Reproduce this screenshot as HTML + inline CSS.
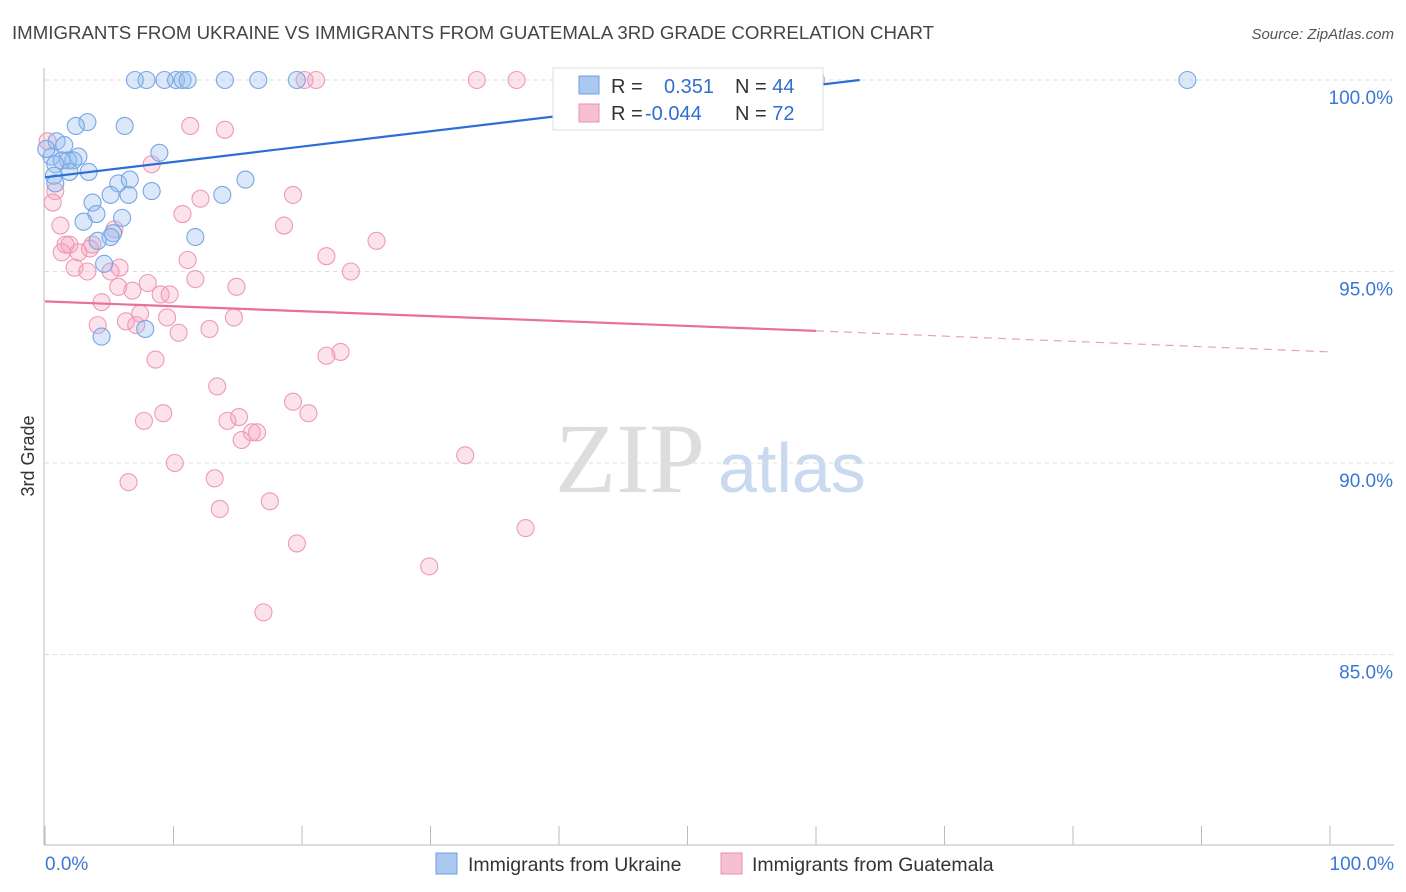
<!DOCTYPE html>
<html><head><meta charset="utf-8"><style>
body{margin:0;background:#fff;font-family:"Liberation Sans",sans-serif;}
svg{display:block}
</style></head><body>
<svg width="1406" height="892" id="chart">
<text x="12" y="39" font-size="18" fill="#444" textLength="922" lengthAdjust="spacingAndGlyphs">IMMIGRANTS FROM UKRAINE VS IMMIGRANTS FROM GUATEMALA 3RD GRADE CORRELATION CHART</text>
<text x="1394" y="39" font-size="15" fill="#555" font-style="italic" text-anchor="end">Source: ZipAtlas.com</text>
<text x="34" y="456" font-size="18" fill="#333" transform="rotate(-90 34 456)" text-anchor="middle">3rd Grade</text>
<text x="555" y="492" font-size="100" fill="#ddd" font-family="Liberation Serif">ZIP</text>
<text x="718" y="492" font-size="70" fill="#c9daf0">atlas</text>
<g id="grid"></g><g id="axes"></g><g id="pts"></g><g id="lines"></g>
<g>
<rect x="553" y="68" width="270" height="62" fill="#fff" stroke="#ddd"/>
<rect x="579" y="76" width="20" height="18" fill="#aac8f0" stroke="#6f9fe0"/>
<rect x="579" y="104" width="20" height="18" fill="#f7c0d2" stroke="#ec8fb0"/>
<text x="611" y="93" font-size="20" fill="#333">R = <tspan fill="#2f6fd0" x="664">0.351</tspan><tspan fill="#333" x="735">N = </tspan><tspan fill="#2f6fd0">44</tspan></text>
<text x="611" y="120" font-size="20" fill="#333">R = <tspan fill="#2f6fd0" x="645">-0.044</tspan><tspan fill="#333" x="735">N = </tspan><tspan fill="#2f6fd0">72</tspan></text>
</g>
<g>
<rect x="436" y="853" width="21" height="21" fill="#aac8f0" stroke="#6f9fe0"/>
<text x="468" y="871" font-size="19.5" fill="#333">Immigrants from Ukraine</text>
<rect x="721" y="853" width="21" height="21" fill="#f7c0d2" stroke="#ec8fb0"/>
<text x="752" y="871" font-size="19.5" fill="#333">Immigrants from Guatemala</text>
</g>
</svg>
<script>
const yTicks=[100,95,90,85];
const yTickLabels=["100.0%","95.0%","90.0%","85.0%"];
const xTickLabels=["0.0%","100.0%"];
const blueX=[7.0,7.9,9.3,10.2,10.7,11.1,14.0,16.6,19.6,88.9,3.3,2.4,6.2,0.9,1.5,8.9,0.5,2.6,1.8,2.2,1.3,3.4,0.8,1.9,0.7,0.8,15.6,5.7,6.6,8.3,5.1,6.5,13.8,3.7,4.0,6.0,3.0,5.3,5.1,11.7,4.1,4.6,7.8,4.4,0.1];
const blueY=[100,100,100,100,100,100,100,100,100,100,98.9,98.8,98.8,98.4,98.3,98.1,98.0,98.0,97.9,97.9,97.9,97.6,97.8,97.6,97.5,97.3,97.4,97.3,97.4,97.1,97.0,97.0,97.0,96.8,96.5,96.4,96.3,96.0,95.9,95.9,95.8,95.2,93.5,93.3,98.2];
const pinkX=[0.2,20.2,21.1,33.6,36.7,60.0,11.3,14.0,8.3,0.8,0.6,19.3,12.1,10.7,1.2,18.6,5.4,25.8,1.6,1.9,3.7,1.3,2.6,3.5,11.1,21.9,2.3,5.8,5.1,3.3,23.8,8.0,11.7,5.7,6.8,14.9,9.0,9.7,4.4,6.3,9.5,14.7,7.4,7.1,4.1,10.4,12.8,23.0,21.9,8.6,13.4,19.3,9.2,20.5,7.7,14.2,15.1,16.5,16.1,15.3,32.7,10.1,13.2,6.5,17.5,13.6,37.4,19.6,29.9,17.0];
const pinkY=[98.4,100,100,100,100,100,98.8,98.7,97.8,97.1,96.8,97.0,96.9,96.5,96.2,96.2,96.1,95.8,95.7,95.7,95.7,95.5,95.5,95.6,95.3,95.4,95.1,95.1,95.0,95.0,95.0,94.7,94.8,94.6,94.5,94.6,94.4,94.4,94.2,93.7,93.8,93.8,93.9,93.6,93.6,93.4,93.5,92.9,92.8,92.7,92.0,91.6,91.3,91.3,91.1,91.1,91.2,90.8,90.8,90.6,90.2,90.0,89.6,89.5,89.0,88.8,88.3,87.9,87.3,86.1];
const blueLine=[[0,97.46],[63.4,100]];
const pinkLine=[[0,94.22],[60,93.45]];
const pinkDash=[[60,93.45],[100,92.9]];
const NS="http://www.w3.org/2000/svg";
const sx=v=>45+v*12.85;
const sy=v=>80+(100-v)*38.3;
function mk(t,a,p){const e=document.createElementNS(NS,t);for(const k in a)e.setAttribute(k,a[k]);document.getElementById(p).appendChild(e);return e;}
yTicks.forEach((t,i)=>{
 const l=mk('line',{x1:45,x2:1394,y1:sy(t),y2:sy(t),stroke:'#ddd','stroke-dasharray':'4,4'},'grid');
 
 
 const tx=mk('text',{x:1393,y:sy(t)+24,'font-size':19,fill:'#3a78d4','text-anchor':'end'},'axes');
 tx.textContent=yTickLabels[i];
 
 
});
const ax=mk('line',{x1:44,x2:44,y1:68,y2:845,stroke:'#bbb'},'axes');


const bx=mk('line',{x1:44,x2:1394,y1:845,y2:845,stroke:'#bbb'},'axes');


for(let i=0;i<=10;i++){
 const t=mk('line',{x1:sx(i*10),x2:sx(i*10),y1:826,y2:845,stroke:'#bbb'},'axes');
 
 
}
[[0,'start',45],[1,'end',1394]].forEach(([i,a,x])=>{
 const t=mk('text',{x:x,y:870,'font-size':19,fill:'#3a78d4','text-anchor':a},'axes');
 t.textContent=xTickLabels[i];
 
 
});
pinkX.forEach((x,i)=>{
 const c=mk('circle',{cx:sx(x),cy:sy(pinkY[i]),r:8.5,fill:'rgba(244,160,190,0.3)',stroke:'#ee9ab7','stroke-width':1.1},'pts');
 
 
});
blueX.forEach((x,i)=>{
 const c=mk('circle',{cx:sx(x),cy:sy(blueY[i]),r:8.5,fill:'rgba(150,190,240,0.35)',stroke:'#78a6e2','stroke-width':1.1},'pts');
 
 
});
const bl=mk('line',{x1:sx(blueLine[0][0]),y1:sy(blueLine[0][1]),x2:sx(blueLine[1][0]),y2:sy(blueLine[1][1]),stroke:'#2a6fd6','stroke-width':2.2},'lines');


const pl=mk('line',{x1:sx(pinkLine[0][0]),y1:sy(pinkLine[0][1]),x2:sx(pinkLine[1][0]),y2:sy(pinkLine[1][1]),stroke:'#e8709a','stroke-width':2.2},'lines');


const pd=mk('line',{x1:sx(pinkDash[0][0]),y1:sy(pinkDash[0][1]),x2:sx(pinkDash[1][0]),y2:sy(pinkDash[1][1]),stroke:'#e8a0b8','stroke-width':1.2,'stroke-dasharray':'8,6'},'lines');


</script>
</body></html>
